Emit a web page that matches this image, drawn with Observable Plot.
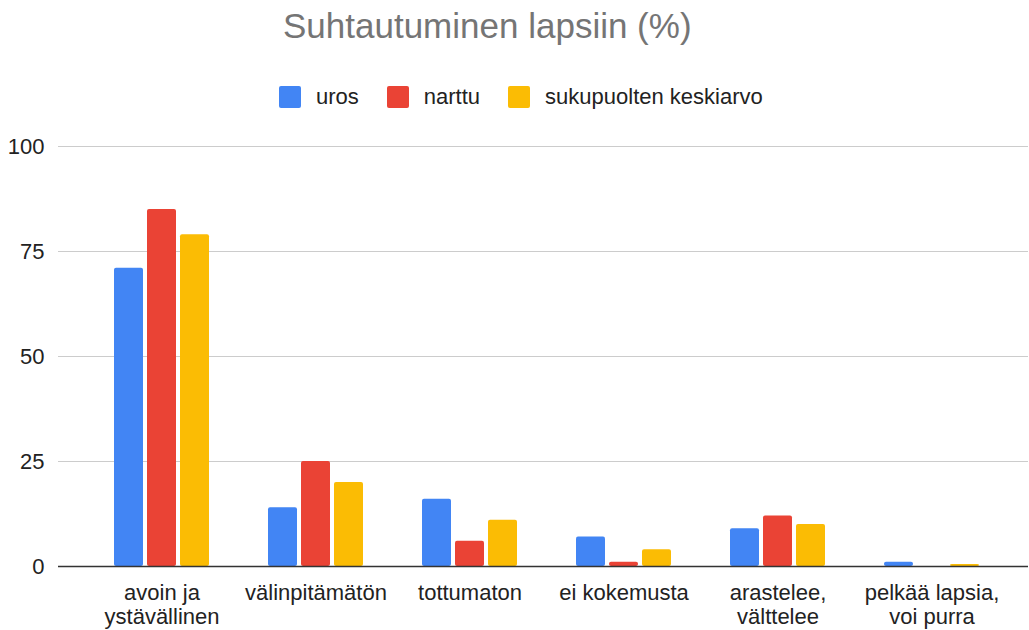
<!DOCTYPE html>
<html>
<head>
<meta charset="utf-8">
<script src="https://cdn.jsdelivr.net/npm/d3@7"></script>
<script src="https://cdn.jsdelivr.net/npm/@observablehq/plot@0.6"></script>
<style>
  body { margin: 0; background: #fff; font-family: "Liberation Sans", Arial, sans-serif; }
  #header { position: relative; height: 130px; width: 1029px; }
  #title { position: absolute; left: 283px; top: 0; height: 52px; line-height: 52px; font-size: 35px; color: #757575; white-space: nowrap; }
  #legend { position: absolute; left: 279px; top: 86px; display: flex; align-items: center; height: 22px; }
  .item { display: flex; align-items: center; margin-right: 28px; }
  .sw { width: 22px; height: 22px; border-radius: 2px; margin-right: 15px; }
  .lab { font-size: 22px; line-height: 22px; color: #222; white-space: nowrap; }
</style>
</head>
<body>
<div id="header"><div id="title"></div><div id="legend"></div></div>
<div id="chart"></div>
<script>
const title = "Suhtautuminen lapsiin (%)";
const categories = ["avoin ja ystävällinen", "välinpitämätön", "tottumaton", "ei kokemusta", "arastelee, välttelee", "pelkää lapsia, voi purra"];
const tickLabels = ["avoin ja\nystävällinen", "välinpitämätön", "tottumaton", "ei kokemusta", "arastelee,\nvälttelee", "pelkää lapsia,\nvoi purra"];
const seriesNames = ["uros", "narttu", "sukupuolten keskiarvo"];
const seriesColors = ["#4285F4", "#EA4335", "#FBBC04"];
const uros = [71, 14, 16, 7, 9, 1];
const narttu = [85, 25, 6, 1, 12, 0];
const keskiarvo = [79, 20, 11, 4, 10, 0.5];
const yTicks = [0, 25, 50, 75, 100];

const seriesValues = [uros, narttu, keskiarvo];
const offsets = [-33, 0, 33];

document.getElementById("title").textContent = title;
const legend = document.getElementById("legend");
seriesNames.forEach((name, i) => {
  const item = document.createElement("div");
  item.className = "item";
  const sw = document.createElement("div");
  sw.className = "sw";
  sw.style.background = seriesColors[i];
  const lab = document.createElement("span");
  lab.className = "lab";
  lab.textContent = name;
  item.appendChild(sw);
  item.appendChild(lab);
  legend.appendChild(item);
});

const barMarks = seriesValues.map((vals, i) =>
  Plot.barY(categories.map((c, j) => ({category: c, value: vals[j]})), {
    x: "category", y: "value", fill: seriesColors[i], dx: offsets[i], rx: 2
  })
);

const chart = Plot.plot({
  width: 1029,
  height: 500,
  marginLeft: 58,
  marginRight: 1,
  marginTop: 16,
  marginBottom: 64,
  style: {fontFamily: '"Liberation Sans", Arial, sans-serif', fontSize: "22px", color: "#222", background: "#fff"},
  x: {type: "band", domain: categories, paddingInner: 0.8144, paddingOuter: 0, insetLeft: 87, insetRight: 81},
  y: {domain: [0, 100]},
  marks: [
    Plot.ruleY(yTicks.filter(d => d > 0), {stroke: "#cccccc", strokeWidth: 1}),
    ...barMarks,
    Plot.ruleY([0], {stroke: "#333", strokeWidth: 1.5}),
    Plot.axisY({ticks: yTicks, tickSize: 0, tickPadding: 14, fontSize: 22, label: null, tickFormat: d => String(d)}),
    Plot.axisX({tickSize: 0, tickPadding: 16, fontSize: 22, lineHeight: 1.1, label: null, tickFormat: d => tickLabels[categories.indexOf(d)]})
  ]
});
document.getElementById("chart").appendChild(chart);
</script>
</body>
</html>
